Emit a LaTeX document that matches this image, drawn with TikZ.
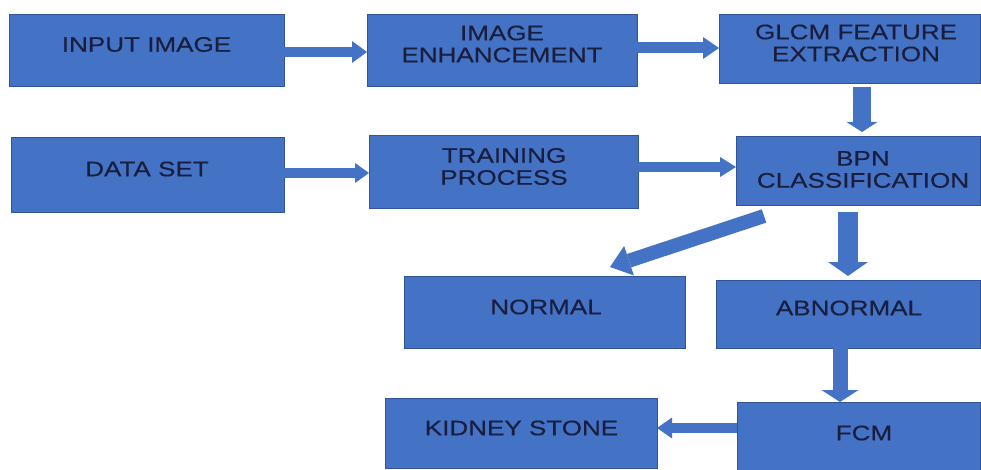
\documentclass[tikz,border=0pt]{standalone}
\usepackage{fontspec}
\setmainfont[FakeStretch=1.24,FakeBold=0.3]{Liberation Sans}
\usetikzlibrary{arrows.meta,calc}
\definecolor{boxfill}{HTML}{4472C4}
\definecolor{boxline}{HTML}{2F5597}
\definecolor{txtc}{RGB}{25,30,62}
\tikzset{
  box/.style={draw=boxline, line width=0.8pt, fill=boxfill, inner sep=0pt, outer sep=0pt},
  lbl/.style={inner sep=0pt, text=txtc, align=center, font=\fontsize{21}{22}\selectfont},
  blk/.style={draw=boxfill, line width=#1},
}
\newcommand\bx[5]{\node[box, minimum width={#3-#2}, minimum height={#5-#4}] (#1) at ({(#2+#3)/2},{(#4+#5)/2}) {};}
\begin{document}
\begin{tikzpicture}[x=1pt,y=-1pt]
\useasboundingbox (0,0) rectangle (981,470);
% boxes
\bx{inp}{9}{284}{14}{86}
\bx{enh}{367}{637}{14}{86}
\bx{glcm}{719}{980}{14}{83}
\bx{data}{11}{284}{137}{212}
\bx{train}{369}{638}{135}{208}
\bx{bpn}{736}{980}{136}{205}
\bx{nrm}{404}{685}{276}{348}
\bx{abn}{716}{980}{280}{348}
\bx{kid}{385}{657}{398}{468}
\bx{fcm}{737}{980}{402}{472}
% labels
\node[lbl] (inpT) at (146.5,44.5) {INPUT IMAGE};
\node[lbl] (enhT) at (502,44) {IMAGE\\ENHANCEMENT};
\node[lbl] (glcmT) at (856,43) {GLCM FEATURE\\EXTRACTION};
\node[lbl] (dataT) at (147,169) {DATA SET};
\node[lbl] (trainT) at (504,166.5) {TRAINING\\PROCESS};
\node[lbl] (bpnT) at (863,169.5) {BPN\\CLASSIFICATION};
\node[lbl] (nrmT) at (546,307) {NORMAL};
\node[lbl] (abnT) at (849,308) {ABNORMAL};
\node[lbl] (kidT) at (521.5,428) {KIDNEY STONE};
\node[lbl] (fcmT) at (864,433) {FCM};
% arrows
\draw[blk=10pt, -{Triangle[width=22pt,length=15pt,line width=0pt]}]
  ($(inp.north east)+(0,38)$) -- ($(enh.north west)+(0,38)$);
\draw[blk=10pt, -{Triangle[width=20pt,length=14pt,line width=0pt]}]
  ($(data.north east)+(0,36)$) -- ($(train.north west)+(0,38)$);
\draw[blk=11pt, -{Triangle[width=22pt,length=16pt,line width=0pt]}]
  ($(enh.north east)+(0,34)$) -- ($(glcm.north west)+(0,34)$);
\draw[blk=10pt, -{Triangle[width=20pt,length=16pt,line width=0pt]}]
  ($(train.north east)+(0,32)$) -- ($(bpn.north west)+(0,31)$);
\draw[blk=18pt, -{Triangle[width=31pt,length=10pt,line width=0pt]}]
  ($(glcm.south west)+(143,4)$) -- ($(bpn.north west)+(126,-4)$);
\draw[blk=20pt, -{Triangle[width=40pt,length=14pt,line width=0pt]}]
  ($(bpn.south west)+(112,7)$) -- ($(abn.north west)+(132,-4)$);
\draw[blk=15pt, -{Triangle[width=37pt,length=12pt,line width=0pt]}]
  ($(abn.south west)+(124,0)$) -- ($(fcm.north west)+(103,0)$);
\draw[blk=10pt, -{Triangle[width=21pt,length=15pt,line width=0pt]}]
  ($(fcm.north west)+(0,26)$) -- ($(kid.north east)+(0,30)$);
\draw[blk=14pt, -{Triangle[width=31pt,length=20pt,line width=0pt]}]
  ($(bpn.south west)+(28,11)$) -- ($(nrm.north west)+(206,-9)$);
\end{tikzpicture}
\end{document}
